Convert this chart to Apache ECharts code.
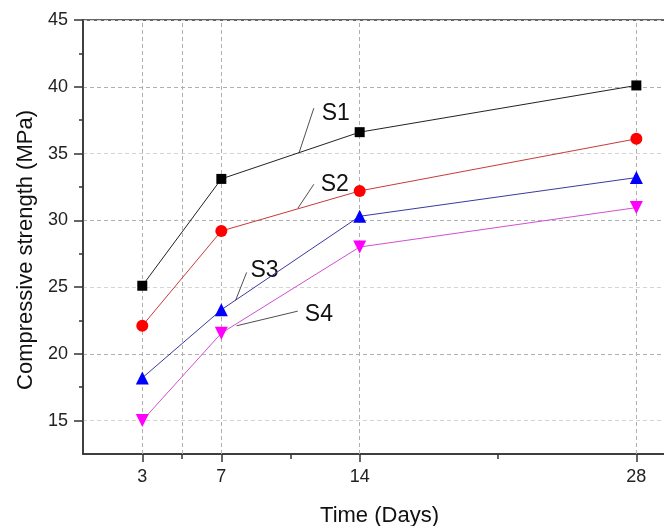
<!DOCTYPE html>
<html>
<head>
<meta charset="utf-8">
<script src="https://cdn.jsdelivr.net/npm/echarts@6/dist/echarts.min.js"></script>
<style>
html,body{margin:0;padding:0;background:#fff;}
#chart{width:664px;height:526px;}
</style>
</head>
<body>
<div id="chart"></div>
<script>
// ---- data ----
const days = [3, 7, 14, 28];
const xTickValues = [3, 7, 14, 28];
const xMinorTickValues = [5, 10.5, 21];
const xGridValues = [3, 5, 7, 14, 28];
const yTickValues = [15, 20, 25, 30, 35, 40, 45];
const yMinorTickValues = [17.5, 22.5, 27.5, 32.5, 37.5, 42.5];
const seriesNames = ['S1', 'S2', 'S3', 'S4'];
const s1 = [25.1, 33.1, 36.6, 40.1];
const s2 = [22.1, 29.2, 32.2, 36.1];
const s3 = [18.2, 23.3, 30.3, 33.2];
const s4 = [15.0, 21.55, 28.0, 30.95];
// annotation leader lines (data coords) and label anchors
const leaderS1 = [[10.92, 35.0], [11.68, 38.4]];
const leaderS2 = [[10.87, 30.9], [11.68, 32.7]];
const leaderS3 = [[7.72, 24.0], [8.28, 26.1]];
const leaderS4 = [[7.77, 22.1], [10.87, 23.2]];
const labelS1 = [12.05, 38.0];
const labelS2 = [12.0, 32.7];
const labelS3 = [8.45, 26.25];
const labelS4 = [11.2, 22.9];

const FONT = 'Liberation Sans, Arial, sans-serif';
const chart = echarts.init(document.getElementById('chart'));

function pairs(vals) { return days.map((d, i) => [d, vals[i]]); }
function annot(leader, label, text) {
  return {
    markLine: {
      silent: true, symbol: ['none', 'none'], animation: false,
      lineStyle: { color: '#222', width: 0.8, type: 'solid' },
      label: { show: false },
      data: [[{ coord: leader[0] }, { coord: leader[1] }]]
    },
    markPoint: {
      silent: true, animation: false,
      symbol: 'circle', symbolSize: 1,
      itemStyle: { color: 'rgba(0,0,0,0)' },
      data: [{ coord: label, value: text }],
      label: { show: true, position: 'right', distance: 0, formatter: text,
        color: '#111', fontSize: 23, fontFamily: FONT }
    }
  };
}

const styles = [
  { sym: 'rect', size: 10, color: '#000000', line: '#222222', rot: 0 },
  { sym: 'circle', size: 12, color: '#ff0000', line: '#c83a3a', rot: 0 },
  { sym: 'triangle', size: 13, color: '#0000ff', line: '#3a3aa0', rot: 0 },
  { sym: 'triangle', size: 13, color: '#ff00ff', line: '#d050d0', rot: 180 }
];
const vals = [s1, s2, s3, s4];
const leaders = [leaderS1, leaderS2, leaderS3, leaderS4];
const labels = [labelS1, labelS2, labelS3, labelS4];

const series = [{
  type: 'line', data: [], silent: true, z: 0,
  markLine: {
    silent: true, symbol: ['none', 'none'], animation: false,
    lineStyle: { color: '#b0b0b0', width: 1, type: [4, 3] },
    label: { show: false },
    data: xGridValues.map(v => ({ xAxis: v }))
  }
}];
vals.forEach((v, i) => {
  const st = styles[i];
  series.push(Object.assign({
    name: seriesNames[i], type: 'line', data: pairs(v),
    symbol: st.sym, symbolSize: st.size, symbolRotate: st.rot,
    showAllSymbol: true, animation: false, z: 5,
    itemStyle: { color: st.color },
    lineStyle: { color: st.line, width: 1 }
  }, annot(leaders[i], labels[i], seriesNames[i])));
});

chart.setOption({
  backgroundColor: '#ffffff',
  animation: false,
  grid: { left: 83, right: -2, top: 20, bottom: 72, show: true,
    outerBoundsMode: 'none', containLabel: false,
    borderColor: '#333', borderWidth: 1.5, backgroundColor: 'transparent' },
  xAxis: [{
    type: 'value', min: 0, max: 29.5, position: 'bottom',
    name: 'Time (Days)', nameLocation: 'middle', nameGap: 51,
    nameTextStyle: { fontSize: 22, color: '#111', fontFamily: FONT, padding: [0, 0, 0, 10] },
    axisLine: { lineStyle: { color: '#333', width: 1.5 } },
    axisTick: { show: true, inside: false, length: 8, customValues: xTickValues,
      lineStyle: { color: '#333', width: 1.5 } },
    axisLabel: { customValues: xTickValues, margin: 14, fontSize: 18, color: '#222', fontFamily: FONT },
    splitLine: { show: false }
  }, {
    type: 'value', min: 0, max: 29.5, position: 'bottom', offset: 0,
    axisLine: { show: false },
    axisTick: { show: true, length: 5, customValues: xMinorTickValues,
      lineStyle: { color: '#333', width: 1.5 } },
    axisLabel: { show: false },
    splitLine: { show: false }
  }],
  yAxis: [{
    type: 'value', min: 12.5, max: 45, interval: 2.5, position: 'left',
    name: 'Compressive strength (MPa)', nameLocation: 'middle', nameGap: 46,
    nameTextStyle: { fontSize: 22, color: '#111', fontFamily: FONT, padding: [0, 26, 0, 0] },
    axisLine: { show: true, lineStyle: { color: '#333', width: 1.5 } },
    axisTick: { show: true, length: 9, customValues: yTickValues,
      lineStyle: { color: '#333', width: 1.5 } },
    axisLabel: { customValues: yTickValues, margin: 15, fontSize: 18, color: '#222', fontFamily: FONT },
    splitLine: { show: true, lineStyle: { color: ['#d4d4d4', '#b0b0b0'], width: 1, type: [4, 3] } }
  }, {
    type: 'value', min: 12.5, max: 45, position: 'left', offset: 0,
    axisLine: { show: false },
    axisTick: { show: true, length: 4, customValues: yMinorTickValues,
      lineStyle: { color: '#333', width: 1.5 } },
    axisLabel: { show: false },
    splitLine: { show: false }
  }],
  series: series
});
</script>
</body>
</html>
